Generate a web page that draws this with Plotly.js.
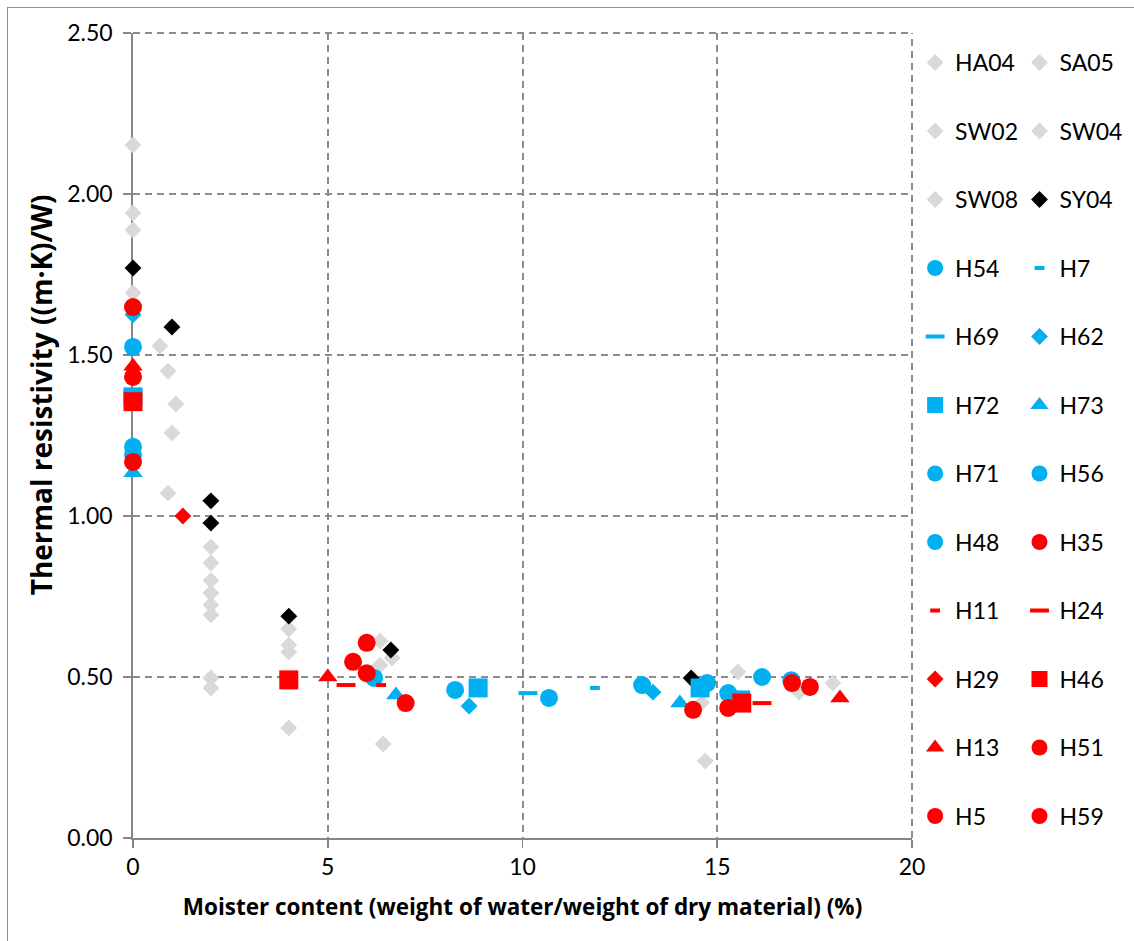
<!DOCTYPE html>
<html>
<head>
<meta charset="utf-8">
<script src="https://cdn.plot.ly/plotly-3.0.1.min.js"></script>
<style>
  html, body { margin: 0; padding: 0; background: #fff; }
  #wrap { position: relative; width: 1134px; height: 941px; }
  #chart { width: 1134px; height: 941px; }
  #frame { position: absolute; left: 7px; top: 7px; width: 1140px; height: 950px;
           border-left: 1.5px solid #8c8c8c; border-top: 1.5px solid #8c8c8c; pointer-events: none; }
</style>
</head>
<body>
<div id="wrap"><div id="chart"></div><div id="frame"></div></div>
<script>
// ---------------- DATA ----------------
const seriesNames = ["HA04","SA05","SW02","SW04","SW08","SY04","H54","H7","H69","H62","H72","H73",
                     "H71","H56","H48","H35","H11","H24","H29","H46","H13","H51","H5","H59"];

const HA04_x = [0, 1.0, 2, 2, 4, 6.34];
const HA04_y = [2.152, 1.258, 0.904, 0.693, 0.649, 0.612];
const SA05_x = [0, 0.9, 2, 2, 4, 14.6];
const SA05_y = [1.941, 1.45, 0.854, 0.497, 0.599, 0.42];
const SW02_x = [0, 0.69, 2, 4, 6.34, 15.53];
const SW02_y = [1.888, 1.528, 0.80, 0.578, 0.537, 0.516];
const SW04_x = [0, 1.1, 2, 2, 6.65, 17.1];
const SW04_y = [1.693, 1.348, 0.761, 0.466, 0.559, 0.453];
const SW08_x = [0, 0.9, 2, 4, 6.42, 14.69, 17.97];
const SW08_y = [1.46, 1.071, 0.724, 0.342, 0.292, 0.239, 0.481];
const SY04_x = [0, 1.0, 2, 2, 4, 6.62, 14.33];
const SY04_y = [1.77, 1.587, 1.047, 0.978, 0.689, 0.584, 0.497];

const H54_x = [0, 13.07];        const H54_y = [1.525, 0.475];
const H7_x  = [11.86];           const H7_y  = [0.466];
const H69_x = [0, 10.14, 15.6];  const H69_y = [1.388, 0.45, 0.452];
const H62_x = [0, 8.63, 13.35];  const H62_y = [1.625, 0.41, 0.453];
const H72_x = [0, 8.86, 14.56];  const H72_y = [1.37, 0.466, 0.466];
const H73_x = [0, 6.75, 14.04];  const H73_y = [1.134, 0.444, 0.419];
const H71_x = [0, 10.68];        const H71_y = [1.215, 0.435];
const H56_x = [0, 8.27, 14.74];  const H56_y = [1.19, 0.46, 0.481];
const H48_x = [6.19, 15.28, 16.15, 16.9]; const H48_y = [0.497, 0.45, 0.50, 0.49];

const H35_x = [0, 6.0, 14.38];   const H35_y = [1.649, 0.606, 0.398];
const H11_x = [6.37];            const H11_y = [0.475];
const H24_x = [5.47, 16.15];     const H24_y = [0.475, 0.419];
const H29_x = [1.28];            const H29_y = [1.0];
const H46_x = [0, 4.0, 15.63];   const H46_y = [1.355, 0.491, 0.419];
const H13_x = [0, 5.0, 18.15];   const H13_y = [1.465, 0.50, 0.435];
const H51_x = [0, 5.65, 15.28];  const H51_y = [1.432, 0.547, 0.404];
const H5_x  = [0, 6.0, 16.92];   const H5_y  = [1.168, 0.512, 0.481];
const H59_x = [7.0, 17.38];      const H59_y = [0.419, 0.469];

const xTicks = [0, 5, 10, 15, 20];
const yTicks = [0, 0.5, 1.0, 1.5, 2.0, 2.5];
const xTitle = "Moister content (weight of water/weight of dry material) (%)";
const yTitle = "Thermal resistivity ((m·K)/W)";

// ---------------- STYLES ----------------
const GRAY = "#D9D9D9", BLACK = "#000000", BLUE = "#00B0F0", RED = "#FF0000";
const dataMap = {
  HA04:[HA04_x,HA04_y], SA05:[SA05_x,SA05_y], SW02:[SW02_x,SW02_y], SW04:[SW04_x,SW04_y],
  SW08:[SW08_x,SW08_y], SY04:[SY04_x,SY04_y], H54:[H54_x,H54_y], H7:[H7_x,H7_y],
  H69:[H69_x,H69_y], H62:[H62_x,H62_y], H72:[H72_x,H72_y], H73:[H73_x,H73_y],
  H71:[H71_x,H71_y], H56:[H56_x,H56_y], H48:[H48_x,H48_y], H35:[H35_x,H35_y],
  H11:[H11_x,H11_y], H24:[H24_x,H24_y], H29:[H29_x,H29_y], H46:[H46_x,H46_y],
  H13:[H13_x,H13_y], H51:[H51_x,H51_y], H5:[H5_x,H5_y], H59:[H59_x,H59_y]
};
const styleMap = {
  HA04:["diamond",GRAY], SA05:["diamond",GRAY], SW02:["diamond",GRAY], SW04:["diamond",GRAY],
  SW08:["diamond",GRAY], SY04:["diamond",BLACK], H54:["circle",BLUE], H7:["dashS",BLUE],
  H69:["dashL",BLUE], H62:["diamond",BLUE], H72:["square",BLUE], H73:["triangle-up",BLUE],
  H71:["circle",BLUE], H56:["circle",BLUE], H48:["circle",BLUE], H35:["circle",RED],
  H11:["dashS",RED], H24:["dashL",RED], H29:["diamond",RED], H46:["square",RED],
  H13:["triangle-up",RED], H51:["circle",RED], H5:["circle",RED], H59:["circle",RED]
};

const traces = seriesNames.map((name, i) => {
  const [sym, col] = styleMap[name];
  const [xs, ys] = dataMap[name];
  let marker;
  if (sym === "dashS" || sym === "dashL") {
    marker = { symbol: "line-ew", size: sym === "dashS" ? 7 : 13.5, color: col,
               line: { color: col, width: 4 } };
  } else {
    const size = sym === "circle" ? 18 : sym === "square" ? 19 : sym === "diamond" ? 13 : 17;
    marker = { symbol: sym, size: size, color: col, line: { width: 0 } };
  }
  return {
    type: "scatter", mode: "markers", name: name, x: xs, y: ys,
    marker: marker, cliponaxis: false,
    legend: (i % 2 === 0) ? "legend" : "legend2",
    legendgroup: name
  };
});

const FONT = "Lato, 'Open Sans', sans-serif";
const TFONT = "'Open Sans', Lato, sans-serif";
const axisCommon = {
  showline: true, linecolor: "#868686", linewidth: 1.75,
  ticks: "outside", ticklen: 8, tickcolor: "#868686", tickwidth: 1.75,
  showgrid: true, gridcolor: "#8c8c8c", gridwidth: 2, griddash: "7px,5px",
  zeroline: false, layer: "below traces",
  tickfont: { family: FONT, size: 23, color: "#000" }
};

const legendCommon = {
  orientation: "v", yanchor: "top", xanchor: "left", y: 0.99,
  bgcolor: "rgba(0,0,0,0)", borderwidth: 0, tracegroupgap: 35.6,
  font: { family: FONT, size: 23, color: "#000" },
  itemwidth: 30, traceorder: "grouped"
};

const layout = {
  width: 1134, height: 941,
  margin: { l: 133, r: 222, t: 33, b: 103, autoexpand: false },
  paper_bgcolor: "#ffffff", plot_bgcolor: "#ffffff",
  showlegend: true,
  xaxis: Object.assign({}, axisCommon, {
    range: [0, 20], tickvals: xTicks, ticktext: xTicks.map(String),
    title: { text: xTitle, standoff: 20,
             font: { family: TFONT, size: 22.5, color: "#000", weight: "bold" } }
  }),
  yaxis: Object.assign({}, axisCommon, {
    range: [0, 2.5], tickvals: yTicks, ticktext: yTicks.map(v => v.toFixed(2)),
    ticklabelstandoff: 6
  }),
  legend: Object.assign({}, legendCommon, { x: 1.004 }),
  legend2: Object.assign({}, legendCommon, { x: 1.138 }),
  shapes: [
    { type: "line", xref: "paper", yref: "paper", x0: 0, x1: 1, y0: 1, y1: 1,
      line: { color: "#8c8c8c", width: 2, dash: "7px,5px" }, layer: "below" },
    { type: "line", xref: "paper", yref: "paper", x0: 1, x1: 1, y0: 0, y1: 1,
      line: { color: "#8c8c8c", width: 2, dash: "7px,5px" }, layer: "below" }
  ],
  annotations: [{
    text: "<b>" + yTitle + "</b>", textangle: -90, xref: "paper", yref: "paper",
    x: -0.118, y: 0.55, xanchor: "center", yanchor: "middle", showarrow: false,
    font: { family: TFONT, size: 28, color: "#000" }
  }]
};

Plotly.newPlot("chart", traces, layout, { displayModeBar: false, staticPlot: true });
</script>
</body>
</html>
